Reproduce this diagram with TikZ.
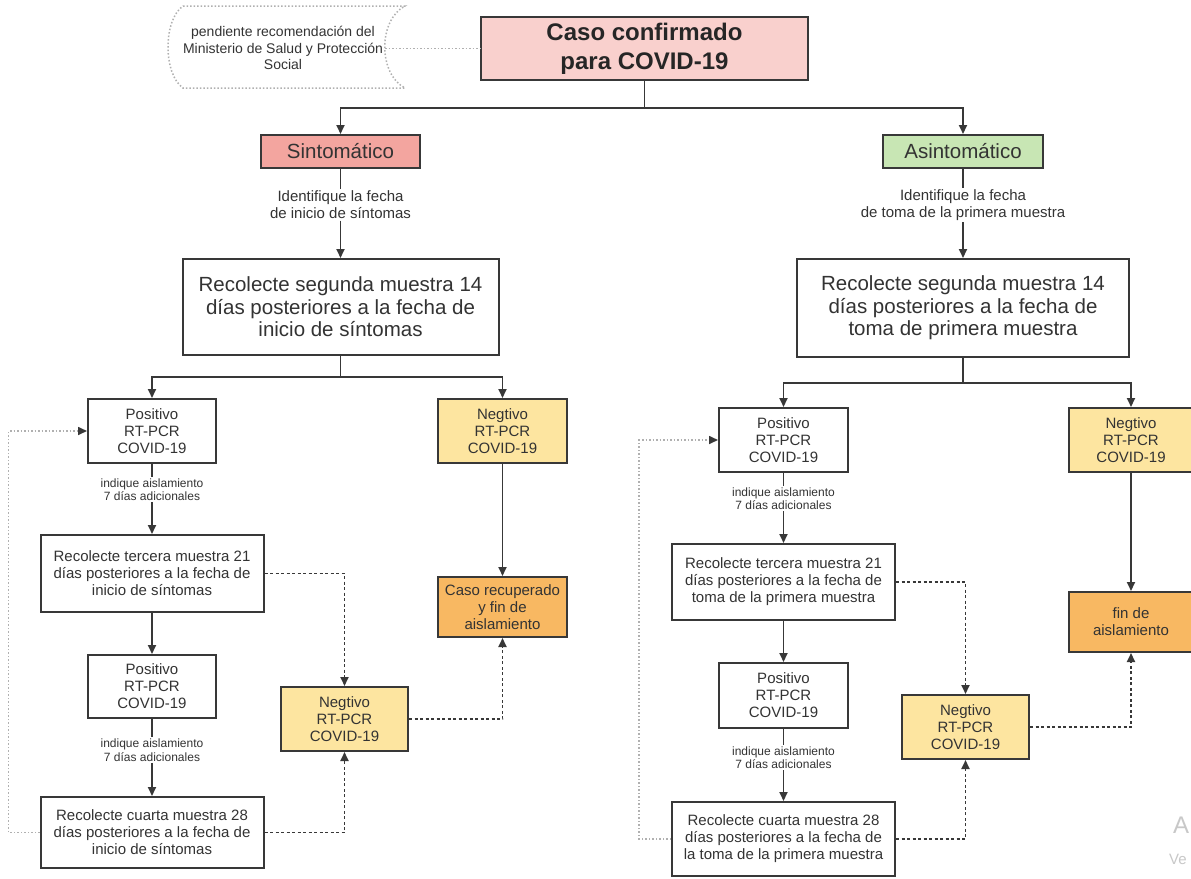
\documentclass[tikz,border=0pt]{standalone}
\usepackage{fontspec}
\setmainfont{Liberation Sans}
\usetikzlibrary{arrows.meta}
\definecolor{ink}{HTML}{333333}
\definecolor{edgec}{HTML}{383838}
\definecolor{lgray}{HTML}{B0B0B0}
\definecolor{pinkf}{HTML}{F9D0CD}
\definecolor{salmon}{HTML}{F3A59F}
\definecolor{greenf}{HTML}{C8E6B4}
\definecolor{yellowf}{HTML}{FDE5A0}
\definecolor{orangef}{HTML}{F8B862}
\definecolor{wmark}{HTML}{C8C8C8}
\tikzset{
  box/.style={draw=edgec, line width=2pt, inner sep=0pt, align=center, text=ink,
    font=\fontsize{15}{17}\selectfont},
  bigbox/.style={box, font=\fontsize{20.5}{22.5}\selectfont},
  lbl/.style={inner sep=1.5pt, align=center, text=ink, font=\fontsize{15}{17}\selectfont},
  slbl/.style={inner sep=1.5pt, align=center, text=ink, font=\fontsize{12}{13.5}\selectfont},
  conn/.style={draw=edgec, line width=1.8pt},
  arr/.style={conn, -{Triangle[length=9pt,width=8pt]}},
  dsh/.style={arr, dash pattern=on 3pt off 2.5pt},
  loopl/.style={draw=lgray, line width=1.6pt, dash pattern=on 1.5pt off 2pt,
    -{Triangle[length=9pt,width=8pt,color=edgec]}},
  dotl/.style={draw=lgray, line width=1.5pt, dash pattern=on 1.5pt off 2pt},
}
\begin{document}
\begin{tikzpicture}[x=1pt,y=-1pt]
\useasboundingbox[fill=white] (0,0) rectangle (1191,878);

% top
\draw[dotl] (183,6) -- (405,6) .. controls (378,20) and (378,74) .. (405,88)
  -- (183,88) .. controls (163,74) and (163,20) .. (183,6);
\node[inner sep=0pt, align=center, text=ink, font=\fontsize{14}{16.5}\selectfont] (bubtxt) at (283,48)
  {pendiente recomendación del\\Ministerio de Salud y Protección\\Social};
\coordinate (bubR) at (385,48.5);
\node[box, fill=pinkf, minimum width=327, minimum height=63,
  font=\fontsize{24}{29}\selectfont\bfseries, text=black!85] (caso) at (644.5,48.5)
  {Caso confirmado\\para COVID-19};
\draw[dotl] (bubR) -- (caso.west);

\node[box, fill=salmon, minimum width=159, minimum height=33, font=\fontsize{20.5}{22}\selectfont] (sint) at (340.5,151.5) {Sintomático};
\node[box, fill=greenf, minimum width=160, minimum height=33, font=\fontsize{20.5}{22}\selectfont] (asint) at (963,151.5) {Asintomático};
\coordinate (j0) at (644.5,108);
\draw[conn] (caso.south) -- (j0);
\draw[arr] (j0) -| (sint.north);
\draw[arr] (j0) -| (asint.north);

\node[lbl] (lab1) at (340.5,205) {Identifique la fecha\\de inicio de síntomas};
\node[lbl] (lab2) at (963,205) {Identifique la fecha\\de toma de la primera muestra};

\node[bigbox, minimum width=316, minimum height=96] (rec1) at (340.5,307)
  {Recolecte segunda muestra 14\\días posteriores a la fecha de\\inicio de síntomas};
\node[bigbox, minimum width=332, minimum height=98] (rec2) at (963,308)
  {Recolecte segunda muestra 14\\días posteriores a la fecha de\\toma de primera muestra};
\draw[conn] (sint.south) -- (lab1.north);
\draw[arr] (lab1.south) -- (rec1.north);
\draw[conn] (asint.south) -- (lab2.north);
\draw[arr] (lab2.south) -- (rec2.north);

% ---------- left branch
\node[box, minimum width=128, minimum height=64] (pos1) at (152,431) {Positivo\\RT-PCR\\COVID-19};
\node[box, fill=yellowf, minimum width=129, minimum height=64] (neg1) at (502.5,431) {Negtivo\\RT-PCR\\COVID-19};
\coordinate (j1) at (340.5,377);
\draw[conn] (rec1.south) -- (j1);
\draw[arr] (j1) -| (pos1.north);
\draw[arr] (j1) -| (neg1.north);

\node[slbl] (labp1) at (152,489.5) {indique aislamiento\\7 días adicionales};
\node[box, minimum width=223, minimum height=77] (ter1) at (152,573.5)
  {Recolecte tercera muestra 21\\días posteriores a la fecha de\\inicio de síntomas};
\draw[conn] (pos1.south) -- (labp1.north);
\draw[arr] (labp1.south) -- (ter1.north);

\node[box, fill=orangef, minimum width=129, minimum height=60] (recup) at (502.5,607)
  {Caso recuperado\\y fin de\\aislamiento};
\draw[arr] (neg1.south) -- (recup.north);

\node[box, minimum width=128, minimum height=63] (pos2) at (152,686.5) {Positivo\\RT-PCR\\COVID-19};
\draw[arr] (ter1.south) -- (pos2.north);
\node[slbl] (labp2) at (152,750) {indique aislamiento\\7 días adicionales};
\node[box, minimum width=223, minimum height=71] (cua1) at (152,832.5)
  {Recolecte cuarta muestra 28\\días posteriores a la fecha de\\inicio de síntomas};
\draw[conn] (pos2.south) -- (labp2.north);
\draw[arr] (labp2.south) -- (cua1.north);

\node[box, fill=yellowf, minimum width=127, minimum height=64] (neg2) at (344.5,719) {Negtivo\\RT-PCR\\COVID-19};
\draw[dsh] (ter1.east) -| (neg2.north);
\draw[dsh] (cua1.east) -| (neg2.south);
\draw[dsh] (neg2.east) -| (recup.south);
\coordinate (lc1) at (8.5,832.5);
\draw[loopl] (cua1.west) -- (lc1) |- (pos1.west);

% ---------- right branch
\node[box, minimum width=129, minimum height=64] (pos3) at (783.5,440) {Positivo\\RT-PCR\\COVID-19};
\node[box, fill=yellowf, minimum width=124, minimum height=64] (neg3) at (1131,440) {Negtivo\\RT-PCR\\COVID-19};
\coordinate (j2) at (963,383);
\draw[conn] (rec2.south) -- (j2);
\draw[arr] (j2) -| (pos3.north);
\draw[arr] (j2) -| (neg3.north);

\node[slbl] (labp3) at (783.5,498.5) {indique aislamiento\\7 días adicionales};
\node[box, minimum width=223, minimum height=76] (ter2) at (783.5,582)
  {Recolecte tercera muestra 21\\días posteriores a la fecha de\\toma de la primera muestra};
\draw[conn] (pos3.south) -- (labp3.north);
\draw[arr] (labp3.south) -- (ter2.north);

\node[box, fill=orangef, minimum width=124, minimum height=60] (fin) at (1131,622)
  {fin de\\aislamiento};
\draw[arr] (neg3.south) -- (fin.north);

\node[box, minimum width=129, minimum height=65] (pos4) at (783.5,695.5) {Positivo\\RT-PCR\\COVID-19};
\draw[arr] (ter2.south) -- (pos4.north);
\node[slbl] (labp4) at (783.5,757.5) {indique aislamiento\\7 días adicionales};
\node[box, minimum width=223, minimum height=74] (cua2) at (783.5,839)
  {Recolecte cuarta muestra 28\\días posteriores a la fecha de\\la toma de la primera muestra};
\draw[conn] (pos4.south) -- (labp4.north);
\draw[arr] (labp4.south) -- (cua2.north);

\node[box, fill=yellowf, minimum width=127, minimum height=64] (neg4) at (965.5,727) {Negtivo\\RT-PCR\\COVID-19};
\draw[dsh] (ter2.east) -| (neg4.north);
\draw[dsh] (cua2.east) -| (neg4.south);
\draw[dsh] (neg4.east) -| (fin.south);
\coordinate (lc2) at (639,839);
\draw[loopl] (cua2.west) -- (lc2) |- (pos3.west);

% watermark fragments
\node[anchor=west, inner sep=0pt, text=wmark, font=\fontsize{24}{26}\selectfont] (wa) at (1173,825) {A};
\node[anchor=west, inner sep=0pt, text=wmark, font=\fontsize{15}{17}\selectfont] (wv) at (1169,859) {Ve};
\end{tikzpicture}
\end{document}
